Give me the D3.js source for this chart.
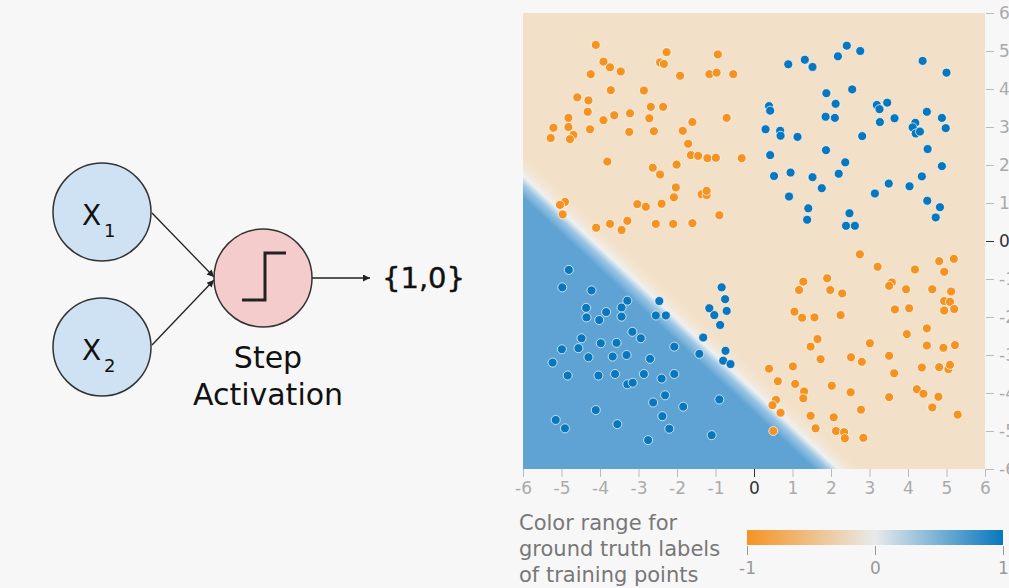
<!DOCTYPE html>
<html lang="en">
<head>
<meta charset="UTF-8">
<title>Step activation perceptron</title>
<script src="https://d3js.org/d3.v7.min.js"></script>
<style>
  body { margin: 0; background: #f7f7f7; }
  svg { display: block; }
  text { font-family: "DejaVu Sans", sans-serif; }
</style>
</head>
<body>
<svg id="chart"></svg>
<script>
// ---- data ----
const axisTicks = [-6, -5, -4, -3, -2, -1, 0, 1, 2, 3, 4, 5, 6];
const legendTicks = [-1, 0, 1];
const legendColors = ["#f59322", "#e8eaeb", "#0877bd"];
const legendLines = ["Color range for", "ground truth labels", "of training points"];

// decision boundary, two points on the edge of the plot (data units)
const boundary = [[-6, 1.71], [2.18, -6]];

const orangePoints = [
  [-4.11,5.16],[-3.91,4.72],[-3.74,4.57],[-3.46,4.46],[-4.24,4.39],[-2.27,4.97],[-2.44,4.70],[-2.34,4.66],
  [-0.94,4.91],[-1.92,4.35],[-1.16,4.39],[-0.97,4.43],[-0.54,4.39],[-3.72,3.97],[-2.86,3.96],[-4.59,3.78],
  [-4.30,3.70],[-4.32,3.40],[-3.91,3.18],[-3.63,3.31],[-3.22,3.36],[-2.68,3.53],[-2.36,3.53],[-2.72,3.23],
  [-4.82,3.24],[-5.21,2.98],[-4.82,3.00],[-5.28,2.71],[-4.69,2.79],[-4.78,2.68],[-4.26,2.94],[-3.24,2.87],
  [-2.60,2.89],[-1.85,2.90],[-1.60,3.13],[-0.71,3.24],[-1.71,2.56],[-1.64,2.26],[-1.45,2.24],[-1.21,2.18],
  [-0.99,2.19],[-0.32,2.18],[-3.81,2.09],[-2.63,1.93],[-2.44,1.75],[-2.01,2.01],[-2.03,1.41],[-2.08,1.15],
  [-1.36,1.23],[-1.23,1.21],[-1.23,1.32],[-0.90,0.68],[-4.91,1.03],[-5.04,0.95],[-4.97,0.70],[-3.03,0.97],
  [-2.81,0.90],[-2.40,0.98],[-4.10,0.35],[-3.74,0.45],[-3.44,0.29],[-3.29,0.53],[-2.55,0.45],[-2.10,0.45],
  [-1.60,0.47],
  [2.75,-0.35],[3.21,-0.68],[4.18,-0.75],[4.81,-0.53],[5.19,-0.47],[4.94,-0.81],[1.28,-1.07],[1.17,-1.29],
  [1.90,-0.98],[1.98,-1.29],[2.29,-1.38],[3.58,-1.09],[3.51,-1.18],[3.95,-1.27],[4.63,-1.27],[5.12,-1.33],
  [4.94,-1.58],[5.09,-1.60],[4.94,-1.83],[5.20,-1.79],[3.66,-1.80],[4.03,-1.77],[1.05,-1.86],[1.25,-2.02],
  [1.57,-2.01],[2.25,-1.95],[4.49,-2.30],[3.97,-2.45],[1.65,-2.58],[1.47,-2.78],[1.73,-3.11],[3.01,-2.69],
  [2.52,-3.06],[2.80,-3.18],[3.51,-3.02],[4.49,-2.75],[4.92,-2.81],[5.22,-2.74],[0.39,-3.36],[1.01,-3.30],
  [4.36,-3.33],[4.81,-3.32],[5.05,-3.37],[5.09,-3.26],[3.64,-3.48],[0.62,-3.69],[1.07,-3.76],[1.30,-3.96],
  [1.28,-4.14],[2.02,-3.81],[2.51,-3.98],[3.51,-4.11],[4.23,-3.90],[4.40,-4.02],[4.79,-4.10],[4.63,-4.38],
  [5.29,-4.57],[0.57,-4.18],[0.48,-4.32],[0.69,-4.52],[1.47,-4.60],[2.07,-4.64],[2.78,-4.44],[1.60,-4.93],
  [2.13,-5.00],[2.34,-5.03],[2.36,-5.19],[2.84,-5.18],[0.50,-5.00]
];

const bluePoints = [
  [2.41,5.14],[2.18,4.86],[2.76,5.00],[0.89,4.65],[1.32,4.77],[1.52,4.58],[4.38,4.74],[5.00,4.43],
  [1.88,3.89],[2.55,3.99],[2.12,3.61],[0.39,3.55],[0.42,3.43],[1.86,3.27],[2.10,3.24],[3.19,3.58],
  [3.26,3.47],[3.46,3.64],[3.27,3.13],[3.65,3.23],[4.49,3.40],[4.88,3.24],[4.98,2.97],[4.19,3.11],
  [4.12,2.99],[4.20,2.83],[4.31,2.88],[0.30,2.94],[0.68,2.90],[0.69,2.77],[1.13,2.74],[2.81,2.76],
  [1.87,2.39],[4.51,2.42],[0.42,2.26],[2.37,2.07],[2.20,1.77],[0.52,1.71],[0.95,1.80],[1.52,1.68],
  [1.76,1.39],[0.91,1.17],[4.88,1.97],[4.36,1.70],[3.50,1.51],[4.04,1.44],[3.14,1.25],[4.50,1.06],
  [4.83,0.89],[4.72,0.62],[1.41,0.86],[1.38,0.56],[2.48,0.73],[2.39,0.40],[2.62,0.40],
  [-4.81,-0.76],[-4.98,-1.22],[-4.22,-1.30],[-4.36,-1.76],[-4.35,-2.01],[-3.84,-1.87],[-4.02,-2.08],
  [-3.44,-1.75],[-3.29,-1.57],[-3.44,-1.99],[-2.46,-1.58],[-2.55,-1.96],[-2.29,-1.96],[-3.16,-2.39],
  [-2.94,-2.56],[-4.48,-2.56],[-4.99,-2.85],[-4.56,-2.82],[-4.30,-3.06],[-3.98,-2.69],[-3.57,-2.68],
  [-3.67,-3.04],[-3.31,-3.00],[-5.23,-3.20],[-4.84,-3.54],[-4.04,-3.54],[-3.61,-3.50],[-3.29,-3.77],
  [-3.15,-3.73],[-2.86,-3.50],[-2.70,-3.10],[-2.07,-2.78],[-2.40,-3.62],[-2.07,-3.50],[-2.31,-4.06],
  [-2.62,-4.25],[-1.84,-4.36],[-2.38,-4.61],[-2.20,-4.94],[-2.75,-5.24],[-3.55,-4.82],[-4.11,-4.45],
  [-5.15,-4.71],[-4.91,-4.93],[-1.10,-5.11],[-0.90,-4.17],[-1.42,-2.97],[-1.32,-2.54],[-0.84,-1.22],
  [-0.75,-1.53],[-1.16,-1.77],[-1.03,-1.95],[-0.71,-1.84],[-0.88,-2.21],[-0.74,-2.89],[-0.80,-3.15],
  [-0.61,-3.24]
];

// ---- setup ----
const width = 1009, height = 588;
const svg = d3.select("#chart").attr("width", width).attr("height", height);
const defs = svg.append("defs");

svg.append("rect").attr("width", width).attr("height", height).attr("fill", "#f7f7f7");

// ---------- left: perceptron diagram ----------
defs.append("marker")
    .attr("id", "arrow")
    .attr("viewBox", "0 0 10 10")
    .attr("refX", 10).attr("refY", 5)
    .attr("markerUnits", "userSpaceOnUse")
    .attr("markerWidth", 9).attr("markerHeight", 7)
    .attr("orient", "auto")
  .append("path")
    .attr("d", "M0,0 L10,5 L0,10 z")
    .attr("fill", "#222");

const diagram = svg.append("g");
const inputs = [
  { cx: 102, cy: 212, sub: "1" },
  { cx: 102, cy: 347, sub: "2" }
];
const step = { cx: 263, cy: 278, r: 49 };

// arrows first so circles sit over them
inputs.forEach((n, i) => {
  const tipY = i === 0 ? step.cy - 1 : step.cy + 2;
  diagram.append("line")
      .attr("x1", n.cx + 50).attr("y1", n.cy + (i === 0 ? 1 : -2))
      .attr("x2", step.cx - step.r).attr("y2", tipY)
      .attr("stroke", "#222").attr("stroke-width", 1.3)
      .attr("marker-end", "url(#arrow)");
});
diagram.append("line")
    .attr("x1", step.cx + step.r).attr("y1", step.cy)
    .attr("x2", 370).attr("y2", step.cy)
    .attr("stroke", "#222").attr("stroke-width", 1.3)
    .attr("marker-end", "url(#arrow)");

inputs.forEach(n => {
  diagram.append("circle")
      .attr("cx", n.cx).attr("cy", n.cy).attr("r", 49)
      .attr("fill", "#cfe2f3").attr("stroke", "#333").attr("stroke-width", 1.5);
  diagram.append("text")
      .attr("x", 82).attr("y", n.cy + 13)
      .attr("font-size", 28).attr("fill", "#111")
      .text("X");
  diagram.append("text")
      .attr("x", 104).attr("y", n.cy + 25)
      .attr("font-size", 18).attr("fill", "#111")
      .text(n.sub);
});

diagram.append("circle")
    .attr("cx", step.cx).attr("cy", step.cy).attr("r", step.r)
    .attr("fill", "#f4cccc").attr("stroke", "#333").attr("stroke-width", 1.5);
diagram.append("path")
    .attr("d", "M242,300 H265 V253 H286")
    .attr("fill", "none").attr("stroke", "#222").attr("stroke-width", 3);

diagram.append("text")
    .attr("x", 268).attr("y", 368).attr("text-anchor", "middle")
    .attr("font-size", 30).attr("fill", "#111").text("Step");
diagram.append("text")
    .attr("x", 268).attr("y", 405).attr("text-anchor", "middle")
    .attr("font-size", 30).attr("fill", "#111").text("Activation");
diagram.append("text")
    .attr("x", 382).attr("y", 288)
    .attr("font-size", 29).attr("fill", "#111")
    .attr("stroke", "#111").attr("stroke-width", 0.4)
    .text("{1,0}");

// ---------- right: decision surface ----------
const x = d3.scaleLinear().domain([-6, 6]).range([523, 985]);
const y = d3.scaleLinear().domain([-6, 6]).range([469, 13]);

// gradient across the boundary line
const p0 = [x(boundary[0][0]), y(boundary[0][1])];
const p1 = [x(boundary[1][0]), y(boundary[1][1])];
const dx = p1[0] - p0[0], dy = p1[1] - p0[1];
const len = Math.hypot(dx, dy);
const nx = dy / len, ny = -dx / len;      // points toward the orange side
const mx = (p0[0] + p1[0]) / 2, my = (p0[1] + p1[1]) / 2;
const half = 16;

const grad = defs.append("linearGradient")
    .attr("id", "surface")
    .attr("gradientUnits", "userSpaceOnUse")
    .attr("x1", mx - nx * half).attr("y1", my - ny * half)
    .attr("x2", mx + nx * half).attr("y2", my + ny * half);
grad.selectAll("stop")
  .data([[0, "#5fa3d4"], [0.3, "#9cc6e4"], [0.5, "#eef0f1"], [0.7, "#f3e6d4"], [1, "#f2e0c8"]])
  .join("stop")
    .attr("offset", d => d[0])
    .attr("stop-color", d => d[1]);

svg.append("rect")
    .attr("x", x(-6)).attr("y", y(6))
    .attr("width", x(6) - x(-6)).attr("height", y(-6) - y(6))
    .attr("fill", "url(#surface)");

const pts = orangePoints.map(d => ({ x: d[0], y: d[1], c: "#f59322" }))
  .concat(bluePoints.map(d => ({ x: d[0], y: d[1], c: "#0877bd" })));

svg.append("g").selectAll("circle")
  .data(pts)
  .join("circle")
    .attr("cx", d => x(d.x))
    .attr("cy", d => y(d.y))
    .attr("r", 4.5)
    .attr("fill", d => d.c)
    .attr("stroke", "#fff")
    .attr("stroke-opacity", 0.7)
    .attr("stroke-width", 1);

function styleAxis(g) {
  g.select(".domain").remove();
  g.selectAll(".tick line").attr("stroke", d => d === 0 ? "#333" : "#bbb");
  g.selectAll(".tick text")
      .attr("fill", d => d === 0 ? "#333" : "#aaa")
      .attr("font-size", 17)
      .attr("font-family", "DejaVu Sans, sans-serif");
}

svg.append("g")
    .attr("transform", `translate(0,${y(-6)})`)
    .call(d3.axisBottom(x).tickValues(axisTicks).tickSize(8).tickPadding(5).tickFormat(d => String(d)))
    .call(styleAxis);

svg.append("g")
    .attr("transform", `translate(${x(6) + 1},0)`)
    .call(d3.axisRight(y).tickValues(axisTicks).tickSize(8).tickPadding(5).tickFormat(d => String(d)))
    .call(styleAxis);

// ---------- legend ----------
svg.append("g").selectAll("text")
  .data(legendLines)
  .join("text")
    .attr("x", 519)
    .attr("y", (d, i) => 530 + i * 26)
    .attr("font-size", 21)
    .attr("fill", "#777")
    .text(d => d);

const lx = d3.scaleLinear().domain(d3.extent(legendTicks)).range([747, 1003]);
const lgrad = defs.append("linearGradient").attr("id", "legendGrad");
lgrad.selectAll("stop")
  .data(legendColors)
  .join("stop")
    .attr("offset", (d, i) => i / (legendColors.length - 1))
    .attr("stop-color", d => d);

svg.append("rect")
    .attr("x", lx(-1)).attr("y", 530)
    .attr("width", lx(1) - lx(-1)).attr("height", 15)
    .attr("fill", "url(#legendGrad)");

svg.append("g")
    .attr("transform", "translate(0,546)")
    .call(d3.axisBottom(lx).tickValues(legendTicks).tickSize(9).tickPadding(7).tickFormat(d => String(d)))
    .call(g => {
      g.select(".domain").remove();
      g.selectAll(".tick line").attr("stroke", "#999");
      g.selectAll(".tick text").attr("fill", "#999").attr("font-size", 17)
        .attr("font-family", "DejaVu Sans, sans-serif");
    });
</script>
</body>
</html>
